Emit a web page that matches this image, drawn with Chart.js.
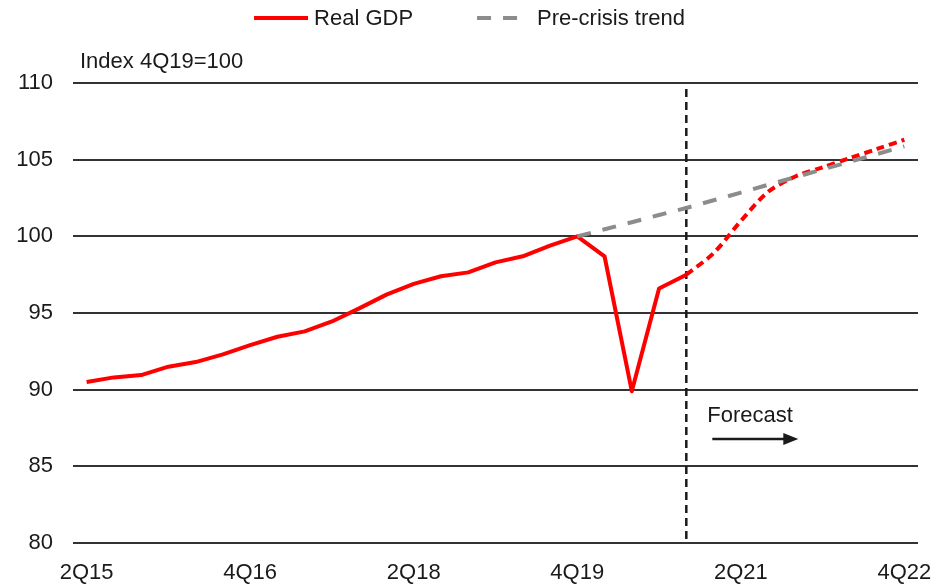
<!DOCTYPE html>
<html lang="en">
<head>
  <meta charset="UTF-8">
  <script src="https://cdn.jsdelivr.net/npm/chart.js"></script>
  <title>Real GDP vs pre-crisis trend</title>
  <style>
    html, body { margin: 0; padding: 0; background: #fff; }
    #wrap { width: 935px; height: 588px; }
  </style>
</head>
<body>
  <div id="wrap"><canvas id="gdpchart" width="935" height="588"></canvas></div>
  <script>
    // quarters on the x axis
    const quarters = ['2Q15', '3Q15', '4Q15', '1Q16', '2Q16', '3Q16', '4Q16', '1Q17', '2Q17', '3Q17', '4Q17',
      '1Q18', '2Q18', '3Q18', '4Q18', '1Q19', '2Q19', '3Q19', '4Q19', '1Q20', '2Q20', '3Q20', '4Q20',
      '1Q21', '2Q21', '3Q21', '4Q21', '1Q22', '2Q22', '3Q22', '4Q22'];
    const tickLabels = ['2Q15', '4Q16', '2Q18', '4Q19', '2Q21', '4Q22'];

    // index, 4Q19 = 100
    const gdpActual = [90.5, 90.8, 90.95, 91.5, 91.8, 92.3, 92.9, 93.45, 93.8, 94.45, 95.3,
      96.2, 96.9, 97.4, 97.65, 98.3, 98.7, 99.4, 100.0, 98.7, 89.9, 96.6, 97.5];   // 2Q15 - 4Q20
    const gdpForecast = [97.5, 98.9, 101.0, 102.9, 103.9, 104.5, 105.1, 105.7, 106.3]; // 4Q20 - 4Q22
    const preCrisisTrend = [100.0, 100.46, 100.92, 101.39, 101.85, 102.35, 102.85, 103.36,
      103.86, 104.36, 104.86, 105.37, 105.87];                                       // 4Q19 - 4Q22

    const forecastFrom = '4Q20';
    const trendFrom = '4Q19';

    const FONT = 'Liberation Sans, Arial, sans-serif';
    const RED = '#ff0000';
    const GREY = '#8c8c8c';

    // pad a series with nulls so it starts at the given quarter
    function place(values, startQuarter) {
      const start = quarters.indexOf(startQuarter);
      return quarters.map((q, i) => (i >= start && i - start < values.length) ? values[i - start] : null);
    }

    const legendItems = [
      { text: 'Real GDP', color: RED, dash: [], sample: 54, gap: 6 },
      { text: 'Pre-crisis trend', color: GREY, dash: [14, 12], sample: 42, gap: 18 }
    ];
    const legendSpacing = 64;

    // legend, axis note, forecast divider and arrow
    const decorations = {
      id: 'decorations',
      beforeDatasetsDraw(chart) {
        const ctx = chart.ctx;
        const x = chart.scales.x.getPixelForValue(quarters.indexOf(forecastFrom));
        const area = chart.chartArea;
        ctx.save();
        ctx.strokeStyle = '#1a1a1a';
        ctx.lineWidth = 2.5;
        ctx.setLineDash([8, 5]);
        ctx.beginPath();
        ctx.moveTo(x, area.top + 6);
        ctx.lineTo(x, area.bottom);
        ctx.stroke();
        ctx.restore();
      },
      afterDraw(chart) {
        const ctx = chart.ctx;
        ctx.save();
        ctx.font = '22px ' + FONT;
        ctx.fillStyle = '#1a1a1a';
        ctx.textBaseline = 'middle';

        // legend row
        let total = 0;
        legendItems.forEach((it, i) => {
          total += it.sample + it.gap + ctx.measureText(it.text).width + (i ? legendSpacing : 0);
        });
        let lx = 469.5 - total / 2;
        const ly = 18;
        legendItems.forEach((it, i) => {
          if (i) lx += legendSpacing;
          ctx.strokeStyle = it.color;
          ctx.lineWidth = 4;
          ctx.setLineDash(it.dash);
          ctx.beginPath();
          ctx.moveTo(lx, ly);
          ctx.lineTo(lx + it.sample, ly);
          ctx.stroke();
          lx += it.sample + it.gap;
          ctx.fillText(it.text, lx, ly + 1);
          lx += ctx.measureText(it.text).width;
        });
        ctx.setLineDash([]);

        ctx.textAlign = 'left';
        ctx.fillText('Index 4Q19=100', 80, 62);

        // forecast marker
        const fx = chart.scales.x.getPixelForValue(quarters.indexOf(forecastFrom));
        ctx.fillText('Forecast', fx + 21, 416);
        ctx.strokeStyle = '#1a1a1a';
        ctx.lineWidth = 2.5;
        ctx.beginPath();
        ctx.moveTo(fx + 26, 439);
        ctx.lineTo(fx + 100, 439);
        ctx.stroke();
        ctx.beginPath();
        ctx.moveTo(fx + 112, 439);
        ctx.lineTo(fx + 97, 433);
        ctx.lineTo(fx + 97, 445);
        ctx.closePath();
        ctx.fill();
        ctx.restore();
      }
    };

    new Chart(document.getElementById('gdpchart'), {
      type: 'line',
      data: {
        labels: quarters,
        datasets: [
          {
            label: 'Pre-crisis trend',
            data: place(preCrisisTrend, trendFrom),
            borderColor: GREY,
            borderWidth: 4,
            borderDash: [14, 12],
            pointRadius: 0,
            fill: false
          },
          {
            label: 'Real GDP',
            data: place(gdpActual, quarters[0]),
            borderColor: RED,
            borderWidth: 4,
            borderJoinStyle: 'round',
            pointRadius: 0,
            tension: 0,
            fill: false
          },
          {
            label: 'Real GDP forecast',
            data: place(gdpForecast, forecastFrom),
            borderColor: RED,
            borderWidth: 4,
            borderDash: [8, 5],
            pointRadius: 0,
            tension: 0.3,
            fill: false
          }
        ]
      },
      options: {
        responsive: false,
        animation: false,
        layout: { padding: { top: 83, right: 17, bottom: 0, left: 0 } },
        plugins: {
          legend: { display: false },
          tooltip: { enabled: false }
        },
        scales: {
          x: {
            offset: true,
            grid: { display: false, drawTicks: false },
            border: { display: false },
            afterFit(scale) {
              scale.height = 45;
              scale.paddingLeft = 0;
              scale.paddingRight = 0;
            },
            ticks: {
              autoSkip: false,
              maxRotation: 0,
              padding: 17,
              color: '#1a1a1a',
              font: { family: FONT, size: 22 },
              callback(value) {
                const q = quarters[value];
                return tickLabels.includes(q) ? q : '';
              }
            }
          },
          y: {
            min: 80,
            max: 110,
            afterFit(scale) { scale.width = 73; },
            border: { display: false },
            grid: { color: '#333333', lineWidth: 2, drawTicks: false },
            ticks: {
              stepSize: 5,
              padding: 20,
              color: '#1a1a1a',
              font: { family: FONT, size: 22 }
            }
          }
        }
      },
      plugins: [decorations]
    });
  </script>
</body>
</html>
